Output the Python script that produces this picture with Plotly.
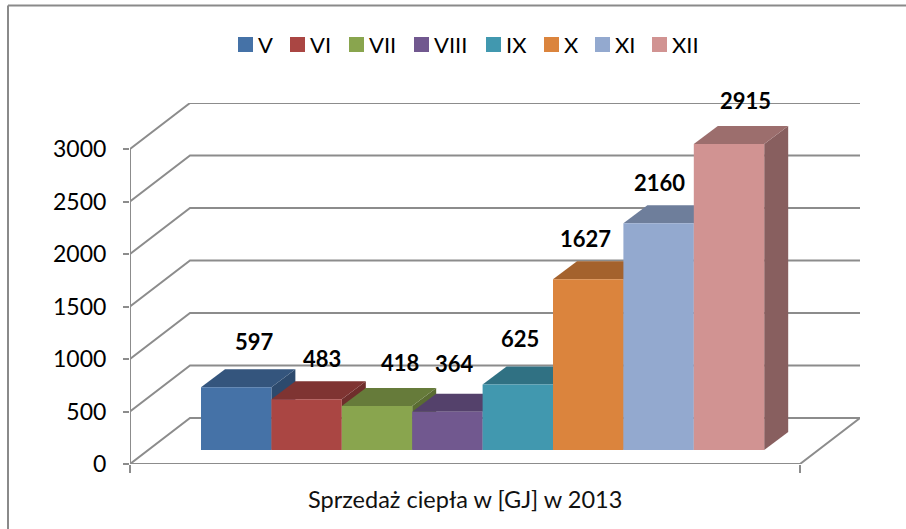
import plotly.graph_objects as go

months = ["V", "VI", "VII", "VIII", "IX", "X", "XI", "XII"]
values = [597, 483, 418, 364, 625, 1627, 2160, 2915]
front_colors = ["#4572A7", "#AA4643", "#89A54E", "#71588F", "#4198AF", "#DB843D", "#93A9CF", "#D19392"]
top_colors = ["#34557D", "#7F3432", "#667B3A", "#54416B", "#307183", "#A4622D", "#6E7E9B", "#9C6E6D"]
side_colors = ["#2D4A6D", "#6F2E2C", "#5A6C33", "#4A395E", "#2A6373", "#905628", "#606E88", "#885F5F"]
y_ticks = [0, 500, 1000, 1500, 2000, 2500, 3000]
label_dx = [18, 15, 23, 7, 2, -3, 1, 16]
label_dy = [46, 41, 44, 48, 46, 41, 41, 43]
legend_px = [238, 290, 349, 414, 486, 544, 595, 652]

W, H = 906, 529
PL, PR, PT, PB = 130, 860, 103, 464      # plot area in page pixels
PX_X = 70.4                              # pixels per category
PX_Y = 0.105                             # pixels per value unit
X0 = (130 - 201) / PX_X - 0.5
X_FLOOR_END = (800 - 201) / PX_X - 0.5
X_MAX = X0 + (PR - PL) / PX_X
Y_MAX = (PB - PT) / PX_Y
WALL_DX, WALL_DY = 60 / PX_X, 46 / PX_Y
BAR_BASE = 14 / PX_Y
BAR_DX, BAR_DY = 24 / PX_X, 18 / PX_Y
GRID = "#8C8C8C"
FONT = "Lato"

fig = go.Figure()

def line(xs, ys):
    fig.add_trace(go.Scatter(x=xs, y=ys, mode="lines", showlegend=False, hoverinfo="skip",
                             line=dict(color=GRID, width=2)))

for t in y_ticks:
    line([X0, X0 + WALL_DX, X_FLOOR_END + WALL_DX], [t, t + WALL_DY, t + WALL_DY])
line([X0, X_FLOOR_END, X_FLOOR_END + WALL_DX], [0, 0, WALL_DY])
line([X0, X0], [0, 3000])

for i, v in enumerate(values):
    L, R = i - 0.5, i + 0.5
    h = BAR_BASE + v
    fig.add_trace(go.Scatter(x=[R, R + BAR_DX, R + BAR_DX, R, R], y=[h, h + BAR_DY, BAR_BASE + BAR_DY, BAR_BASE, h],
                             mode="lines", fill="toself", fillcolor=side_colors[i], line=dict(width=0),
                             showlegend=False, hoverinfo="skip"))
    fig.add_trace(go.Scatter(x=[L, L + BAR_DX, R + BAR_DX, R, L], y=[h, h + BAR_DY, h + BAR_DY, h, h],
                             mode="lines", fill="toself", fillcolor=top_colors[i], line=dict(width=0),
                             showlegend=False, hoverinfo="skip"))

for i, v in enumerate(values):
    fig.add_trace(go.Bar(x=[i], y=[v], base=BAR_BASE, width=1, xaxis="x2", yaxis="y2",
                         marker=dict(color=front_colors[i], line=dict(width=0)),
                         name=months[i], showlegend=False))

def px_x(p):
    return (p - PL) / (PR - PL)

def px_y(p):
    return (PB - p) / (PB - PT)

annotations = [
    dict(x=i, y=BAR_BASE + v, xref="x2", yref="y2", text=f"<b>{v}</b>", showarrow=False,
         xshift=label_dx[i], yshift=label_dy[i], font=dict(family=FONT, size=22, color="#000000"))
    for i, v in enumerate(values)
]
annotations.append(dict(x=(X0 + X_FLOOR_END) / 2, y=px_y(499), xref="x", yref="paper", yanchor="middle",
                        text="Sprzedaż ciepła w [GJ] w 2013", showarrow=False,
                        font=dict(family=FONT, size=23.5, color="#111111")))

shapes = [
    dict(type="line", xref="paper", yref="paper", x0=px_x(8), x1=px_x(W), y0=px_y(5.5), y1=px_y(5.5),
         line=dict(color="#8A8A8A", width=2)),
    dict(type="line", xref="paper", yref="paper", x0=px_x(8), x1=px_x(8), y0=px_y(5.5), y1=px_y(H),
         line=dict(color="#8A8A8A", width=2)),
]

# legend row: colour square plus real text label
for i, m in enumerate(months):
    sx = legend_px[i]
    shapes.append(dict(type="rect", xref="paper", yref="paper", x0=px_x(sx), x1=px_x(sx + 15),
                       y0=px_y(52), y1=px_y(37), fillcolor=front_colors[i], line=dict(width=0)))
    annotations.append(dict(x=px_x(sx + 18), y=px_y(44.5), xref="paper", yref="paper", xanchor="left",
                            yanchor="middle", text=m, showarrow=False,
                            font=dict(family=FONT, size=22, color="#000000")))

fig.update_layout(
    width=W, height=H,
    margin=dict(l=PL, r=W - PR, t=PT, b=H - PB, autoexpand=False),
    paper_bgcolor="white", plot_bgcolor="white",
    barmode="overlay", showlegend=False,
    xaxis=dict(range=[X0, X_MAX], tickvals=[X0, X_FLOOR_END], ticktext=["", ""], ticks="outside", ticklen=8,
               tickcolor=GRID, tickwidth=2, showgrid=False, zeroline=False, showline=False),
    yaxis=dict(range=[0, Y_MAX], tickvals=y_ticks, ticks="outside", ticklen=6, tickcolor=GRID, tickwidth=2,
               showgrid=False, zeroline=False, showline=False, ticklabelstandoff=12,
               tickfont=dict(family=FONT, size=23, color="#000000")),
    xaxis2=dict(range=[X0, X_MAX], overlaying="x", visible=False),
    yaxis2=dict(range=[0, Y_MAX], overlaying="y", visible=False),
    annotations=annotations,
    shapes=shapes,
)

fig.write_html("out.html", config=dict(displayModeBar=False),
               post_script="document.body.style.margin='0';document.documentElement.style.overflow='hidden';")
